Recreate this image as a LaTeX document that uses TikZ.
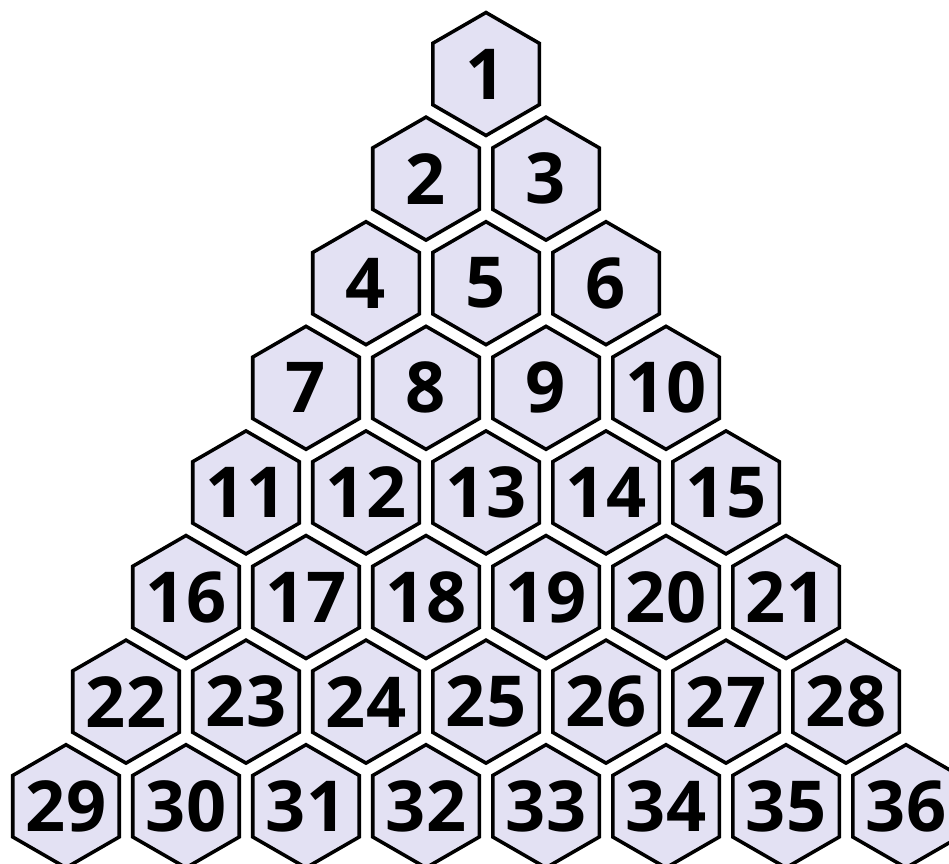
\documentclass[tikz,border=0pt]{standalone}
\usepackage{fontspec}
\setmainfont{Open Sans}
\usetikzlibrary{shapes.geometric}

\definecolor{hexfill}{RGB}{227,225,243}

\begin{document}
\begin{tikzpicture}[x=0.02cm,y=-0.02cm,
  hexcell/.style={regular polygon,regular polygon sides=6,shape border rotate=30,
    minimum size=2.46cm,inner sep=-8pt,outer sep=0pt,draw=black,line width=2pt,
    fill=hexfill,font=\fontsize{40}{48}\selectfont\bfseries}]
  \useasboundingbox (0,0) rectangle (949,863);
  % Triangle of numbered hexagons, row by row
  \foreach \row in {1,...,8}{
    \foreach \col in {1,...,\row}{
      \pgfmathtruncatemacro{\num}{\row*(\row-1)/2+\col}
      \node[hexcell] (h\num) at ({486+(\col-(\row+1)/2)*120},{74+(\row-1)*104.6}) {\num};
    }
  }
\end{tikzpicture}
\end{document}
